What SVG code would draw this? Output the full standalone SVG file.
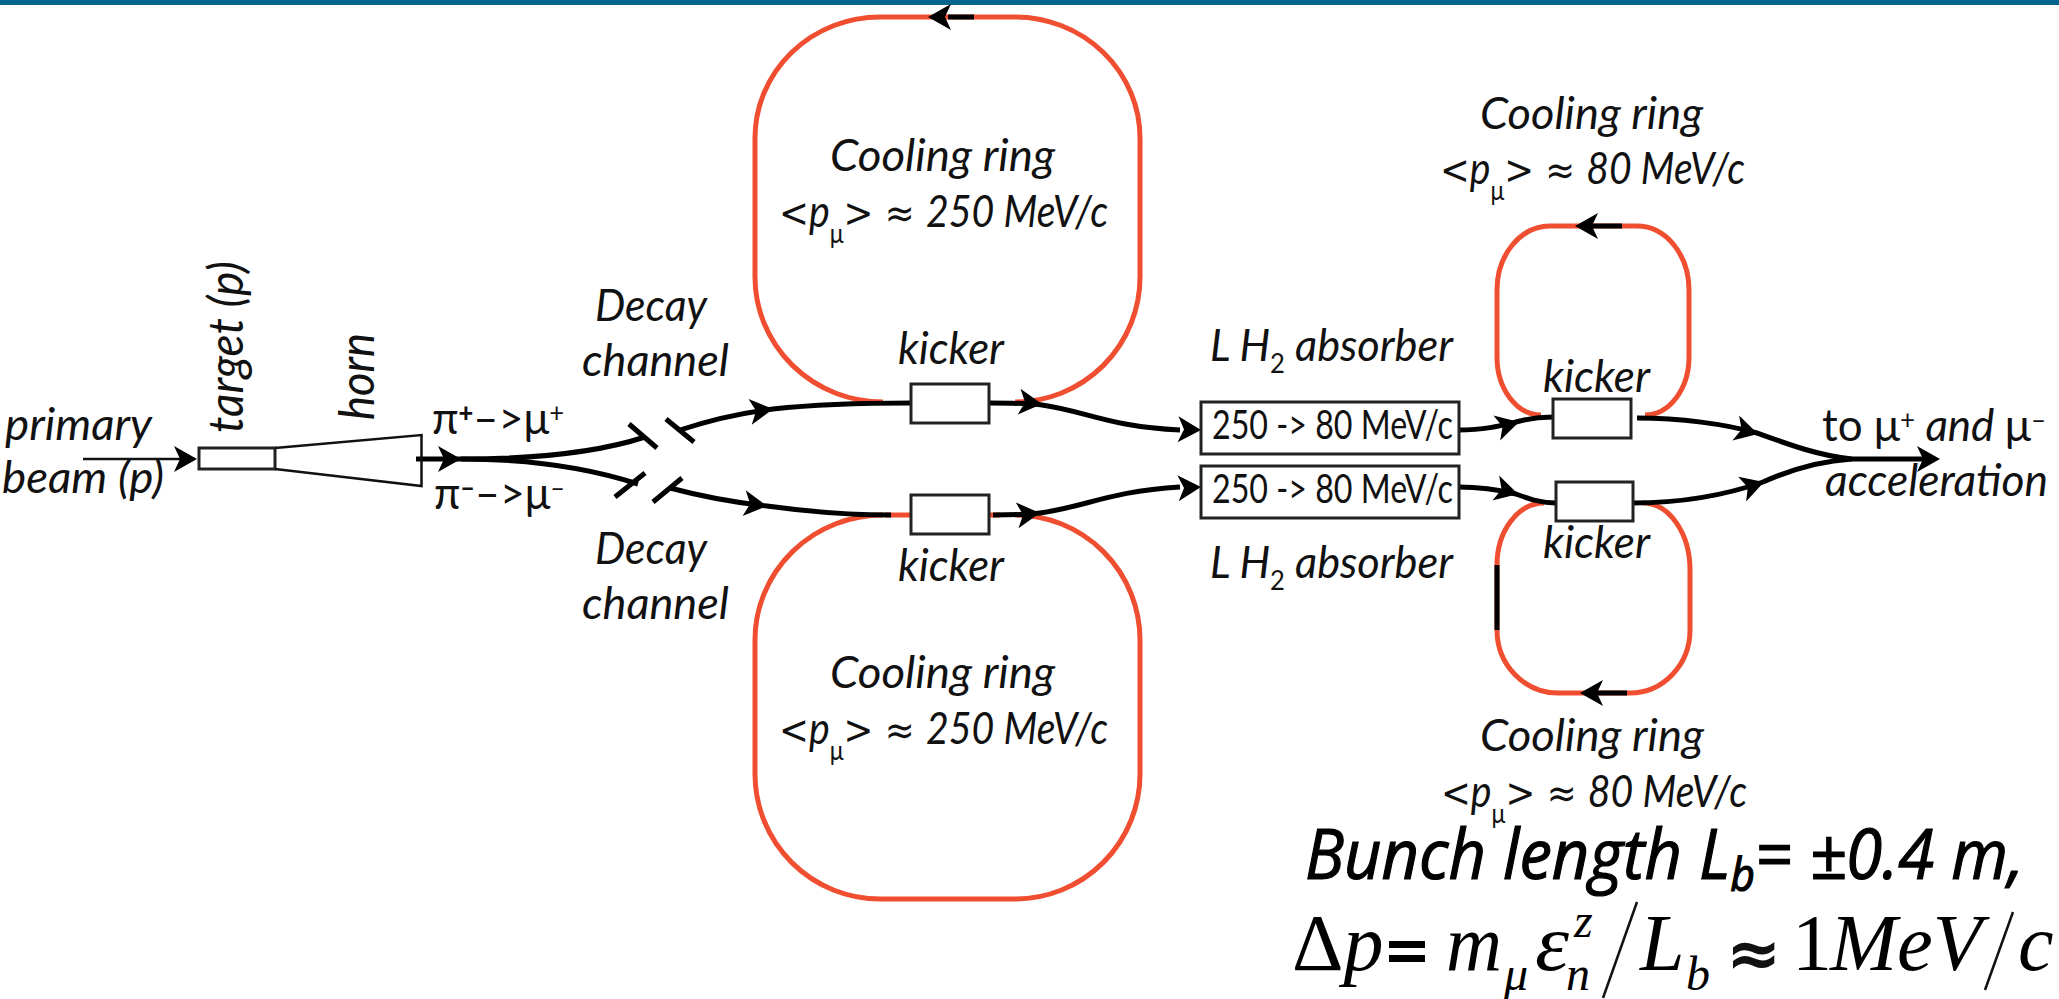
<svg xmlns="http://www.w3.org/2000/svg" xmlns:xlink="http://www.w3.org/1999/xlink" width="2059" height="999" viewBox="0 0 2059 999">
<style>
text{font-family:"Lato","Open Sans","Liberation Sans",sans-serif;fill:#111;font-size:44px}
.i{font-style:italic}
.up{font-style:normal}
.big{font-size:48px}
.sub{font-size:26px;font-style:normal}
.sym{font-family:"DejaVu Sans",sans-serif;font-style:normal;font-size:40px}
.sup{font-size:26px;font-style:normal}
.ring{fill:none;stroke:#f04e30;stroke-width:5}
.trk{fill:none;stroke:#000;stroke-width:5}
.box{fill:#fff;stroke:#222;stroke-width:3}
.thin{fill:none;stroke:#111;stroke-width:2.5}
.t{font-family:"Liberation Serif","Times New Roman",serif;font-size:80px;fill:#000}
.ts{font-size:48px}
.c{font-family:"Open Sans","Lato",sans-serif;font-style:italic;font-size:70px;font-weight:400;fill:#000;stroke:#000;stroke-width:1.2}
</style>
<defs>
<path id="ah" d="M0,0 L-23,-13 L-17,0 L-23,13 Z" fill="#000"/>
</defs>
<rect id="topbar" x="0" y="0" width="2059" height="5" fill="#04668f"/>

<g id="connectors">
<path class="ring" d="M883,402 A128,125 0 0 1 755,277 V138 A125,121 0 0 1 880,17 H1015 A125,121 0 0 1 1140,138 V277 A125,125 0 0 1 1015,402"/>
<path class="ring" d="M883,515 A128,125 0 0 0 755,640 V774 A125,125 0 0 0 880,899 H1015 A125,125 0 0 0 1140,774 V640 A125,125 0 0 0 1015,515"/>
<path class="ring" d="M1541,415 A44,58 0 0 1 1497,357 V290 A53,64 0 0 1 1550,226 H1637 A52,64 0 0 1 1689,290 V357 A44,58 0 0 1 1645,415"/>
<path class="ring" d="M1544,503 A47,62 0 0 0 1497,565 V630 A61,63 0 0 0 1558,693 H1630 A60,63 0 0 0 1690,630 V570 A47,67 0 0 0 1643,503"/>
<path class="ring" d="M885,515 H911 M989,515 H1000"/>
<path class="trk" d="M948,17 H974"/>
<path class="trk" d="M1590,226 H1622"/>
<path class="trk" d="M1595,693 H1627"/>
<path class="trk" stroke-width="6" d="M1497,565 V630"/>
<path class="thin" d="M83,459 H185"/>
<path class="trk" stroke-width="6" d="M416,459 H461 C520,459 590,455 645,437"/>
<path class="trk" d="M461,459 C520,459 580,465 638,484"/>
<path class="trk" d="M680,430 C710,420 740,413 773,409 C810,405 860,403 911,403"/>
<path class="trk" d="M989,403 C1010,403 1025,403 1042,405 C1085,411 1110,427 1180,430"/>
<path class="trk" d="M670,488 C700,496 730,502 767,506 C810,512 850,515 891,515"/>
<path class="trk" d="M993,515 C1010,515 1025,515 1040,513 C1085,507 1110,491 1180,487"/>
<path class="trk" d="M1458,430 C1485,430 1500,426 1516,422 C1530,418 1540,417 1553,417"/>
<path class="trk" d="M1637,418 C1680,418 1725,424 1757,433 C1790,445 1820,456 1852,459"/>
<path class="trk" stroke-width="4" d="M1852,459 H1925"/>
<path class="trk" d="M1458,487 C1480,487 1500,490 1516,494 C1530,499 1540,503 1556,503"/>
<path class="trk" d="M1633,503 C1680,503 1720,497 1763,482 C1790,470 1820,461 1852,459"/>
<path class="trk" d="M629,424 L657,448 M666,419 L694,442 M615,497 L645,473 M653,502 L682,478"/>
<use xlink:href="#ah" transform="translate(197,459)"/>
<use xlink:href="#ah" transform="translate(461,459)"/>
<use xlink:href="#ah" transform="translate(773,409) rotate(-7)"/>
<use xlink:href="#ah" transform="translate(1042,404) rotate(6)"/>
<use xlink:href="#ah" transform="translate(1201,430) rotate(2)"/>
<use xlink:href="#ah" transform="translate(767,506) rotate(7)"/>
<use xlink:href="#ah" transform="translate(1040,513) rotate(-6)"/>
<use xlink:href="#ah" transform="translate(1201,487) rotate(-3)"/>
<use xlink:href="#ah" transform="translate(928,17) rotate(180)"/>
<use xlink:href="#ah" transform="translate(1575,226) rotate(180)"/>
<use xlink:href="#ah" transform="translate(1580,693) rotate(180)"/>
<use xlink:href="#ah" transform="translate(1519,422) rotate(-15)"/>
<use xlink:href="#ah" transform="translate(1518,494) rotate(15)"/>
<use xlink:href="#ah" transform="translate(1758,434) rotate(15)"/>
<use xlink:href="#ah" transform="translate(1764,482) rotate(-18)"/>
<use xlink:href="#ah" transform="translate(1940,459)"/>
</g>

<g id="beam"><text class="i" x="5" y="440" textLength="147" lengthAdjust="spacingAndGlyphs">primary</text><text class="i" x="2" y="493" textLength="162" lengthAdjust="spacingAndGlyphs">beam (p)</text></g>
<g id="target"><rect class="box" x="199" y="448" width="76" height="21"/><text class="i big" transform="translate(243,433) rotate(-90)" textLength="172" lengthAdjust="spacingAndGlyphs">target (p)</text></g>
<g id="horn"><path class="thin" d="M275,448 L421.5,435 V486 L275,469"/><text class="i big" transform="translate(374,420) rotate(-90)" textLength="87" lengthAdjust="spacingAndGlyphs">horn</text></g>

<g id="pi-plus"><text class="up" x="432" y="434" textLength="132" lengthAdjust="spacingAndGlyphs">π<tspan dy="-12" font-size="26" font-weight="900">+</tspan><tspan dy="12">–&gt;μ</tspan><tspan dy="-12" class="sup">+</tspan></text></g>
<g id="pi-minus"><text class="up" x="434" y="509" textLength="131" lengthAdjust="spacingAndGlyphs">π<tspan dy="-12" font-size="26" font-weight="900">–</tspan><tspan dy="12">–&gt;μ</tspan><tspan dy="-12" class="sup">–</tspan></text></g>

<g id="decay-top"><text class="i" x="595" y="321" textLength="112" lengthAdjust="spacingAndGlyphs">Decay</text><text class="i" x="582" y="376" textLength="147" lengthAdjust="spacingAndGlyphs">channel</text></g>
<g id="decay-bottom"><text class="i" x="595" y="564" textLength="112" lengthAdjust="spacingAndGlyphs">Decay</text><text class="i" x="582" y="619" textLength="147" lengthAdjust="spacingAndGlyphs">channel</text></g>

<g id="ring-top-label"><text class="i" x="830" y="171" textLength="225" lengthAdjust="spacingAndGlyphs">Cooling ring</text><text class="i" x="779" y="227" textLength="329" lengthAdjust="spacingAndGlyphs"><tspan class="sym">&lt;</tspan>p<tspan class="sub" dy="16">μ</tspan><tspan class="sym" dy="-16">&gt; ≈ </tspan>250 MeV/c</text></g>
<g id="ring-bottom-label"><text class="i" x="830" y="688" textLength="225" lengthAdjust="spacingAndGlyphs">Cooling ring</text><text class="i" x="779" y="744" textLength="329" lengthAdjust="spacingAndGlyphs"><tspan class="sym">&lt;</tspan>p<tspan class="sub" dy="16">μ</tspan><tspan class="sym" dy="-16">&gt; ≈ </tspan>250 MeV/c</text></g>

<g id="kicker-1"><rect class="box" x="911" y="384" width="78" height="39"/><text class="i" x="898" y="364" textLength="106" lengthAdjust="spacingAndGlyphs">kicker</text></g>
<g id="kicker-2"><rect class="box" x="911" y="495" width="78" height="39"/><text class="i" x="898" y="581" textLength="106" lengthAdjust="spacingAndGlyphs">kicker</text></g>
<g id="kicker-3"><rect class="box" x="1553" y="399" width="78" height="39"/><text class="i" x="1543" y="392" textLength="107" lengthAdjust="spacingAndGlyphs">kicker</text></g>
<g id="kicker-4"><rect class="box" x="1556" y="482" width="77" height="39"/><text class="i" x="1543" y="558" textLength="107" lengthAdjust="spacingAndGlyphs">kicker</text></g>

<g id="absorber-1"><rect class="box" x="1201" y="402" width="258" height="52"/><text class="up" x="1212" y="439" style="font-size:40px" textLength="241" lengthAdjust="spacingAndGlyphs">250 -&gt; 80 MeV/c</text><text class="i" x="1210" y="361" textLength="243" lengthAdjust="spacingAndGlyphs">L H<tspan class="sub" dy="12">2</tspan><tspan dy="-12"> absorber</tspan></text></g>
<g id="absorber-2"><rect class="box" x="1201" y="466" width="258" height="52"/><text class="up" x="1212" y="503" style="font-size:40px" textLength="241" lengthAdjust="spacingAndGlyphs">250 -&gt; 80 MeV/c</text><text class="i" x="1210" y="578" textLength="243" lengthAdjust="spacingAndGlyphs">L H<tspan class="sub" dy="12">2</tspan><tspan dy="-12"> absorber</tspan></text></g>

<g id="ring-small-top-label"><text class="i" x="1480" y="129" textLength="223" lengthAdjust="spacingAndGlyphs">Cooling ring</text><text class="i" x="1440" y="184" textLength="305" lengthAdjust="spacingAndGlyphs"><tspan class="sym">&lt;</tspan>p<tspan class="sub" dy="16">μ</tspan><tspan class="sym" dy="-16">&gt; ≈ </tspan>80 MeV/c</text></g>
<g id="ring-small-bottom-label"><text class="i" x="1480" y="751" textLength="224" lengthAdjust="spacingAndGlyphs">Cooling ring</text><text class="i" x="1441" y="807" textLength="306" lengthAdjust="spacingAndGlyphs"><tspan class="sym">&lt;</tspan>p<tspan class="sub" dy="16">μ</tspan><tspan class="sym" dy="-16">&gt; ≈ </tspan>80 MeV/c</text></g>

<g id="exit-label"><text x="1822" y="441" textLength="224" lengthAdjust="spacingAndGlyphs">to μ<tspan dy="-12" class="sup">+</tspan><tspan dy="12" class="i"> and </tspan><tspan>μ</tspan><tspan dy="-12" class="sup">–</tspan></text><text class="i" x="1825" y="496" textLength="223" lengthAdjust="spacingAndGlyphs">acceleration</text></g>

<g id="bunch"><text class="c" x="1305" y="879" textLength="719" lengthAdjust="spacingAndGlyphs">Bunch length L<tspan dy="12" font-size="46">b</tspan><tspan dy="-12">= ±0.4 m,</tspan></text></g>
<g id="formula">
<text class="t" x="1292" y="970">Δ<tspan font-style="italic">p</tspan></text>
<rect x="1389" y="941" width="36" height="7" fill="#000"/><rect x="1389" y="955" width="36" height="7" fill="#000"/>
<text class="t" x="1446" y="970" font-style="italic" textLength="56" lengthAdjust="spacingAndGlyphs">m</text>
<text class="t ts" x="1504" y="990" font-style="italic">μ</text>
<text class="t" x="1535" y="970" font-style="italic" textLength="34" lengthAdjust="spacingAndGlyphs">ε</text>
<text class="t ts" x="1574" y="937" font-style="italic">z</text>
<text class="t ts" x="1566" y="990" font-style="italic">n</text>
<path class="thin" stroke-width="3" d="M1637,902 L1603,998"/>
<text class="t" x="1640" y="970" font-style="italic">L</text>
<text class="t ts" x="1686" y="990" font-style="italic">b</text>
<text x="1726" y="976" style="font-family:'DejaVu Sans',sans-serif;font-size:66px;font-weight:700" fill="#000">≈</text>
<text class="t" x="1792" y="970">1</text>
<text class="t" x="1830" y="970" font-style="italic" textLength="152" lengthAdjust="spacingAndGlyphs">MeV</text>
<path class="thin" stroke-width="3" d="M2013,912 L1985,990"/>
<text class="t" x="2018" y="970" font-style="italic">c</text>
</g>
</svg>
